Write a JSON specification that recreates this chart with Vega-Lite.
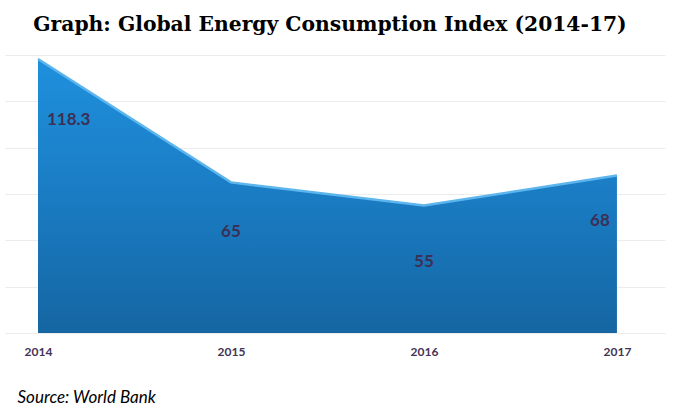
{
  "$schema": "https://vega.github.io/schema/vega-lite/v6.json",
  "autosize": "none",
  "width": 660,
  "height": 278,
  "padding": {"left": 5, "top": 55, "right": 9, "bottom": 78},
  "background": "white",
  "config": {"view": {"stroke": null}},
  "title": {
    "text": "Graph: Global Energy Consumption Index (2014-17)",
    "font": "DejaVu Serif",
    "fontSize": 20.3,
    "fontWeight": "bold",
    "color": "#000000",
    "anchor": "middle",
    "baseline": "alphabetic",
    "offset": 3,
    "dx": -5
  },
  "data": {
    "values": [
      {"year": 2014, "value": 118.3, "label": "118.3"},
      {"year": 2015, "value": 65, "label": "65"},
      {"year": 2016, "value": 55, "label": "55"},
      {"year": 2017, "value": 68, "label": "68"}
    ]
  },
  "encoding": {
    "x": {
      "field": "year",
      "type": "quantitative",
      "scale": {"domain": [2013.829, 2017.249], "nice": false, "zero": false},
      "axis": {
        "values": [2014, 2015, 2016, 2017],
        "format": "d",
        "grid": false,
        "ticks": false,
        "domain": false,
        "labelFont": "Lato",
        "labelFontWeight": "bold",
        "labelFontSize": 12,
        "labelColor": "#433355",
        "labelPadding": 13,
        "title": "Source: World Bank",
        "titleFont": "Lato",
        "titleFontStyle": "italic",
        "titleFontWeight": "normal",
        "titleFontSize": 17,
        "titleColor": "#000000",
        "titleAnchor": "start",
        "titleAlign": "left",
        "titleBaseline": "alphabetic",
        "titleX": 12,
        "titleY": 69
      }
    },
    "y": {
      "field": "value",
      "type": "quantitative",
      "scale": {"domain": [0, 120], "nice": false},
      "axis": {
        "values": [0, 20, 40, 60, 80, 100, 120],
        "labels": false,
        "ticks": false,
        "domain": false,
        "title": null,
        "grid": true,
        "gridColor": "#ececec",
        "gridWidth": 1
      }
    }
  },
  "layer": [
    {
      "mark": {
        "type": "area",
        "color": {
          "gradient": "linear",
          "x1": 0, "y1": 0, "x2": 0, "y2": 1,
          "stops": [
            {"offset": 0, "color": "#1f90dd"},
            {"offset": 0.5, "color": "#1a7cc3"},
            {"offset": 1, "color": "#1566a2"}
          ]
        }
      }
    },
    {
      "mark": {"type": "line", "color": "#5db5ee", "strokeWidth": 2.5}
    },
    {
      "transform": [{"filter": "datum.year == 2014"}],
      "mark": {"type": "text", "align": "left", "baseline": "middle", "dx": 9, "dy": 61, "font": "Lato", "fontWeight": "bold", "fontSize": 17, "color": "#3d2f55"},
      "encoding": {"text": {"field": "label"}}
    },
    {
      "transform": [{"filter": "datum.year == 2015"}],
      "mark": {"type": "text", "align": "center", "baseline": "middle", "dx": 0, "dy": 50, "font": "Lato", "fontWeight": "bold", "fontSize": 17, "color": "#3d2f55"},
      "encoding": {"text": {"field": "label"}}
    },
    {
      "transform": [{"filter": "datum.year == 2016"}],
      "mark": {"type": "text", "align": "center", "baseline": "middle", "dx": 0, "dy": 56, "font": "Lato", "fontWeight": "bold", "fontSize": 17, "color": "#3d2f55"},
      "encoding": {"text": {"field": "label"}}
    },
    {
      "transform": [{"filter": "datum.year == 2017"}],
      "mark": {"type": "text", "align": "center", "baseline": "middle", "dx": -17, "dy": 46, "font": "Lato", "fontWeight": "bold", "fontSize": 17, "color": "#3d2f55"},
      "encoding": {"text": {"field": "label"}}
    }
  ]
}
